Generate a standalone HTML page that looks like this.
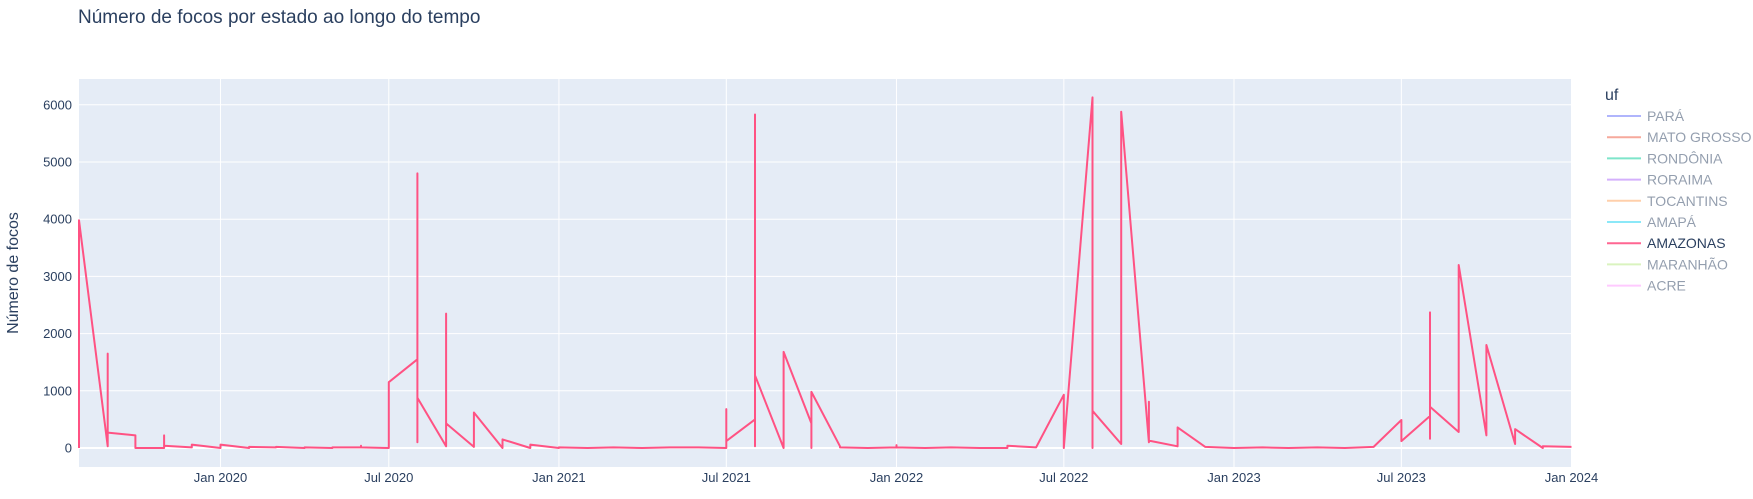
<!DOCTYPE html>
<html><head><meta charset="utf-8"><style>
body{margin:0;background:#fff;width:1753px;height:494px;overflow:hidden;font-family:"Liberation Sans","DejaVu Sans",sans-serif}
</style></head><body>
<svg id="chart" width="1753" height="494" xmlns="http://www.w3.org/2000/svg" style="font-family:'Liberation Sans','DejaVu Sans',sans-serif">
<text x="78" y="23" font-size="19" fill="#2a3f5f">Número de focos por estado ao longo do tempo</text>
<rect x="79" y="79" width="1492.5" height="388" fill="#e5ecf6"/>
<g id="grid"></g>
<g id="series"></g>
<text transform="translate(18,273) rotate(-90)" text-anchor="middle" font-size="16" fill="#2a3f5f">Número de focos</text>
<g id="legend"></g>
</svg>
<script>
const dates=["2019-08-01","2019-08-01","2019-09-01","2019-09-01","2019-09-01","2019-10-01","2019-10-01","2019-11-01","2019-11-01","2019-11-01","2019-12-01","2019-12-01","2020-01-01","2020-01-01","2020-02-01","2020-02-01","2020-03-01","2020-03-01","2020-04-01","2020-04-01","2020-05-01","2020-05-01","2020-06-01","2020-06-01","2020-06-01","2020-07-01","2020-07-01","2020-08-01","2020-08-01","2020-08-01","2020-08-01","2020-09-01","2020-09-01","2020-09-01","2020-10-01","2020-10-01","2020-11-01","2020-11-01","2020-12-01","2020-12-01","2021-01-01","2021-01-01","2021-02-01","2021-03-01","2021-04-01","2021-05-01","2021-06-01","2021-07-01","2021-07-01","2021-07-01","2021-08-01","2021-08-01","2021-08-01","2021-08-01","2021-09-01","2021-09-01","2021-10-01","2021-10-01","2021-10-01","2021-11-01","2021-11-01","2021-12-01","2022-01-01","2022-01-01","2022-01-01","2022-02-01","2022-03-01","2022-04-01","2022-05-01","2022-05-01","2022-06-01","2022-07-01","2022-07-01","2022-08-01","2022-08-01","2022-08-01","2022-09-01","2022-09-01","2022-10-01","2022-10-01","2022-10-01","2022-11-01","2022-11-01","2022-12-01","2023-01-01","2023-02-01","2023-03-01","2023-04-01","2023-05-01","2023-06-01","2023-07-01","2023-07-01","2023-08-01","2023-08-01","2023-08-01","2023-08-01","2023-09-01","2023-09-01","2023-10-01","2023-10-01","2023-11-01","2023-11-01","2023-12-01","2023-12-01","2024-01-01"];
const values=[0,3980,30,1650,270,220,0,0,220,40,10,60,0,60,0,20,10,20,0,10,0,10,10,40,10,0,1150,1550,4800,100,880,30,2350,430,20,620,0,150,0,60,0,10,0,10,0,10,10,0,680,120,500,5830,30,1270,0,1680,430,0,980,30,10,0,10,50,10,0,10,0,0,40,10,930,0,6130,0,650,70,5880,100,810,130,30,360,20,0,10,0,10,0,20,490,120,560,2370,160,720,280,3200,220,1800,70,330,0,30,20];
const yTicks=[0,1000,2000,3000,4000,5000,6000];
const xTickDates=["2020-01-01","2020-07-01","2021-01-01","2021-07-01","2022-01-01","2022-07-01","2023-01-01","2023-07-01","2024-01-01"];
const xTickLabels=["Jan 2020","Jul 2020","Jan 2021","Jul 2021","Jan 2022","Jul 2022","Jan 2023","Jul 2023","Jan 2024"];
const legendNames=["PARÁ","MATO GROSSO","RONDÔNIA","RORAIMA","TOCANTINS","AMAPÁ","AMAZONAS","MARANHÃO","ACRE"];
const legendColors=["#636efa","#EF553B","#00cc96","#ab63fa","#FFA15A","#19d3f3","#FF6692","#B6E880","#FF97FF"];

const NS="http://www.w3.org/2000/svg";
const X0=Date.UTC(2019,7,1), X1=Date.UTC(2024,0,1), PL=79, PR=1571.5;
function xs(d){const t=Date.parse(d+"T00:00:00Z");return PL+(t-X0)/(X1-X0)*(PR-PL);}
function ys(v){return 448-v*0.0572;}
function mk(tag,attrs,parent){const e=document.createElementNS(NS,tag);for(const k in attrs)e.setAttribute(k,attrs[k]);parent.appendChild(e);return e;}
const grid=document.getElementById('grid'), svg=document.getElementById('chart');
yTicks.forEach(v=>{
  const l=mk('line',{x1:PL,x2:PR,y1:ys(v),y2:ys(v),stroke:'#fff','stroke-width':v===0?2:1},grid);
  
  
  const t=mk('text',{x:72,y:ys(v)+4.5,'text-anchor':'end','font-size':13,fill:'#2a3f5f'},svg);
  t.textContent=v;
  
  
});
xTickDates.forEach((d,i)=>{
  const l=mk('line',{x1:xs(d),x2:xs(d),y1:79,y2:467,stroke:'#fff','stroke-width':1},grid);
  
  
  const t=mk('text',{x:xs(d),y:482,'text-anchor':'middle','font-size':13,fill:'#2a3f5f'},svg);
  t.textContent=xTickLabels[i];
  
  
});
const pts=dates.map((d,i)=>xs(d).toFixed(1)+","+ys(values[i]).toFixed(1)).join(" ");
const pl=mk('polyline',{points:pts,fill:'none',stroke:'#ff5283','stroke-width':2,'stroke-linejoin':'round'},document.getElementById('series'));


const lg=document.getElementById('legend');
const ut=mk('text',{x:1605,y:100,'font-size':16,fill:'#2a3f5f'},lg);
ut.textContent='uf';


legendNames.forEach((n,i)=>{
  const y=116+i*21.2, on=(n==="AMAZONAS");
  const g=mk('g',{opacity:on?1:0.5,style:'cursor:pointer'},lg);
  
  
  mk('line',{x1:1607,x2:1641,y1:y,y2:y,stroke:legendColors[i],'stroke-width':2},g);
  const t=mk('text',{x:1647,y:y+5,'font-size':14,fill:'#2a3f5f'},g);
  t.textContent=n;
});
</script>
</body></html>
